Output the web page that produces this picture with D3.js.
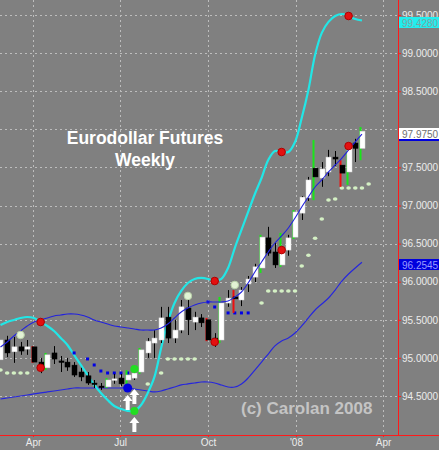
<!DOCTYPE html>
<html>
<head>
<meta charset="utf-8">
<script src="https://cdn.jsdelivr.net/npm/d3@7"></script>
<style>
  body { margin: 0; background: #808080; }
  svg { display: block; font-family: "Liberation Sans", Arial, sans-serif; }
</style>
</head>
<body>
<svg></svg>
<script>
const [svgWidth, svgHeight] = [439, 450];

// weekly bars, Mon 26 Feb 2007 .. Mon 10 Mar 2008
const firstWeek = new Date(2007, 1, 26);
const lastWeek = new Date(2008, 2, 10);

const opens = [94.975, 95.235, 95.080, 95.145, 95.115, 95.145, 94.945, 94.870, 95.065, 94.960,
  94.945, 94.905, 94.815, 94.765, 94.670, 94.630, 94.620, 94.710, 94.735, 94.710,
  94.735, 94.815, 95.065, 95.195, 95.235, 95.535, 95.260, 95.365, 95.655, 95.470,
  95.525, 95.500, 95.260, 95.235, 95.720, 95.800, 95.760, 95.970, 96.060, 96.180,
  96.575, 96.390, 96.220, 96.415, 96.585, 96.900, 97.100, 97.490, 97.360, 97.440,
  97.635, 97.530, 97.440, 97.820, 97.750];
const highs = [95.300, 95.290, 95.275, 95.210, 95.235, 95.155, 95.000, 95.065, 95.155, 95.025,
  95.000, 94.945, 94.870, 94.815, 94.710, 94.670, 94.735, 94.790, 94.790, 94.840,
  94.855, 95.130, 95.260, 95.365, 95.670, 95.670, 95.500, 95.760, 95.760, 95.605,
  95.575, 95.525, 95.325, 95.800, 95.890, 95.890, 95.930, 96.075, 96.235, 96.615,
  96.720, 96.510, 96.640, 96.615, 96.940, 97.125, 97.375, 97.860, 97.570, 97.730,
  97.715, 97.595, 97.820, 97.875, 98.030];
const lows = [94.945, 95.010, 94.935, 95.040, 95.040, 94.935, 94.800, 94.840, 94.920, 94.815,
  94.830, 94.750, 94.695, 94.645, 94.605, 94.580, 94.605, 94.660, 94.630, 94.630,
  94.710, 94.790, 95.000, 95.000, 95.195, 95.195, 95.195, 95.325, 95.300, 95.365,
  95.405, 95.220, 95.145, 95.195, 95.670, 95.590, 95.680, 95.865, 95.995, 96.115,
  96.340, 96.180, 96.195, 96.340, 96.560, 96.810, 97.060, 97.070, 97.245, 97.385,
  97.520, 97.245, 97.270, 97.570, 97.595];
const closes = [95.235, 95.065, 95.145, 95.090, 95.145, 94.945, 94.870, 95.040, 94.985, 94.945,
  94.880, 94.775, 94.750, 94.670, 94.660, 94.625, 94.710, 94.725, 94.660, 94.775,
  94.800, 95.105, 95.220, 95.260, 95.525, 95.260, 95.365, 95.670, 95.500, 95.535,
  95.460, 95.235, 95.210, 95.720, 95.785, 95.775, 95.890, 96.035, 96.195, 96.585,
  96.375, 96.220, 96.415, 96.575, 96.915, 97.110, 97.335, 97.375, 97.480, 97.635,
  97.610, 97.425, 97.780, 97.750, 97.975];
// g = green range bar, r = red range bar
const barFlags = ['g', '', '', '', '', 'r', '', 'g', '', '', '', '', '', '', '', '', 'g', '', '', 'g',
  '', 'g', '', '', '', '', '', '', '', '', '', 'r', '', 'g', '', 'r', '', '', '', 'g',
  '', '', 'g', '', 'g', '', '', 'g', '', '', '', 'r', 'g', '', 'g'];

const cyanLine = [95.432, 95.471, 95.498, 95.524, 95.537, 95.524, 95.471, 95.419, 95.353, 95.261,
  95.170, 95.038, 94.907, 94.776, 94.645, 94.540, 94.448, 94.369, 94.330, 94.304,
  94.304, 94.382, 94.540, 94.750, 95.130, 95.471, 95.721, 95.878, 95.983, 96.036,
  96.049, 96.036, 96.009, 96.036, 96.180, 96.442, 96.679, 96.915, 97.151, 97.361,
  97.597, 97.715, 97.702, 97.702, 97.834, 98.148, 98.516, 98.979, 99.266, 99.410,
  99.487, 99.513, 99.487, 99.448, 99.428];
const midLine = [95.143, 95.209, 95.288, 95.353, 95.419, 95.471, 95.498, 95.524, 95.550, 95.563,
  95.576, 95.576, 95.563, 95.537, 95.498, 95.471, 95.445, 95.419, 95.406, 95.393,
  95.380, 95.366, 95.366, 95.366, 95.393, 95.445, 95.524, 95.603, 95.655, 95.694,
  95.721, 95.734, 95.734, 95.734, 95.747, 95.799, 95.865, 95.983, 96.128, 96.259,
  96.390, 96.508, 96.600, 96.705, 96.836, 96.981, 97.112, 97.243, 97.335, 97.440,
  97.532, 97.623, 97.729, 97.834, 97.938];
const lowLine = [94.461, 94.474, 94.487, 94.500, 94.513, 94.527, 94.540, 94.553, 94.566, 94.579,
  94.592, 94.605, 94.605, 94.605, 94.605, 94.605, 94.605, 94.605, 94.605, 94.605,
  94.592, 94.579, 94.566, 94.553, 94.566, 94.592, 94.618, 94.645, 94.658, 94.671,
  94.684, 94.684, 94.671, 94.645, 94.618, 94.618, 94.658, 94.737, 94.841, 94.946,
  95.051, 95.157, 95.222, 95.261, 95.327, 95.419, 95.524, 95.629, 95.708, 95.786,
  95.891, 96.009, 96.101, 96.180, 96.2545];

// [week index, price]
const blueStops = [[11, 95.065], [13, 94.986], [14, 94.907], [15, 94.828], [16, 94.802], [17, 94.802],
  [18, 94.802], [19, 94.802], [31, 95.734], [32, 95.668], [33, 95.590], [34, 95.590], [35, 95.590],
  [36, 95.590], [37, 95.590]];
const paleStops = [[0, 94.841], [1, 94.802], [2, 94.802], [3, 94.802], [4, 94.802], [22, 94.658],
  [24, 94.802], [25, 94.986], [26, 94.986], [27, 94.986], [28, 94.986], [29, 94.986],
  [39, 95.721], [40, 95.878], [41, 95.878], [42, 95.878], [43, 95.878], [44, 95.878],
  [45, 96.206], [46, 96.347], [47, 96.571], [48, 96.823], [49, 97.072], [50, 97.085],
  [51, 97.230], [52, 97.230], [53, 97.230], [54, 97.230], [55, 97.282]];
const paleMarks = [[3, 95.301], [28, 95.813], [35, 95.957]];
const redSignals = [6, 32, 42, 52];
const greenSignals = [20];
const blueSignals = [19];
const arrows = [[19, 94.513], [20, 94.592], [20, 94.225]];

const priceTicks = [94.5, 95, 95.5, 96, 96.5, 97, 97.5, 98, 98.5, 99, 99.5];
const dateTicks = [new Date(2007, 3, 1), new Date(2007, 6, 1), new Date(2007, 9, 1),
  new Date(2008, 0, 1), new Date(2008, 3, 1)];
const lastLabels = [
  { v: 99.4280, fill: '#22eeee', text: '#7fa3a3', line: null },
  { v: 97.9750, fill: '#ffffff', text: '#707070', line: '#0000dd' },
  { v: 96.2545, fill: '#0000dd', text: '#9b9bff', line: null }
];

const weeks = d3.timeMonday.range(firstWeek, d3.timeDay.offset(lastWeek, 8));

const svg = d3.select('svg')
  .attr('width', svgWidth)
  .attr('height', svgHeight);

svg.append('rect')
  .attr('width', svgWidth)
  .attr('height', svgHeight)
  .attr('fill', '#808080');

const x = d3.scaleTime()
  .domain([dateTicks[0], dateTicks[4]])
  .range([33, 383]);
const y = d3.scaleLinear()
  .domain([94.5, 99.5])
  .range([396, 15]);
const xi = i => x(weeks[i]);

const axisX = 398, axisY = 435;

// grid
svg.append('g').selectAll('line')
  .data(priceTicks)
  .join('line')
  .attr('x1', 0).attr('x2', axisX)
  .attr('y1', d => Math.round(y(d)) + 0.5).attr('y2', d => Math.round(y(d)) + 0.5)
  .attr('stroke', '#bdbdbd')
  .attr('stroke-dasharray', '2,3');
svg.append('g').selectAll('line')
  .data(dateTicks)
  .join('line')
  .attr('x1', d => Math.round(x(d)) + 0.5).attr('x2', d => Math.round(x(d)) + 0.5)
  .attr('y1', 0).attr('y2', axisY)
  .attr('stroke', '#bdbdbd')
  .attr('stroke-dasharray', '2,3');

// title
const title = svg.append('g')
  .attr('fill', '#fff')
  .attr('font-weight', 'bold')
  .attr('font-size', 17.5)
  .attr('text-anchor', 'middle');
title.append('text').attr('x', 145).attr('y', 144).text('Eurodollar Futures');
title.append('text').attr('x', 145).attr('y', 166).text('Weekly');

svg.append('text')
  .attr('x', 241).attr('y', 414)
  .attr('fill', '#c4c4c4')
  .attr('font-weight', 'bold')
  .attr('font-size', 17)
  .text('(c) Carolan 2008');

// bands
const lineOf = vals => d3.line()
  .x((d, i) => xi(i))
  .y(d => y(d))
  .curve(d3.curveCatmullRom)(vals);

svg.append('path')
  .attr('d', lineOf(lowLine))
  .attr('fill', 'none')
  .attr('stroke', '#2626dd')
  .attr('stroke-width', 1.2);
svg.append('path')
  .attr('d', lineOf(cyanLine))
  .attr('fill', 'none')
  .attr('stroke', '#22e6e6')
  .attr('stroke-width', 2.2);

// stops
svg.append('g').selectAll('ellipse')
  .data(paleStops)
  .join('ellipse')
  .attr('cx', d => xi(d[0])).attr('cy', d => y(d[1]))
  .attr('rx', 2.3).attr('ry', 1.7)
  .attr('fill', '#d4f0c4');
svg.append('g').selectAll('rect')
  .data(blueStops)
  .join('rect')
  .attr('x', d => xi(d[0]) - 1.5).attr('y', d => y(d[1]) - 1.5)
  .attr('width', 3).attr('height', 3)
  .attr('fill', '#0000e6');

// candles
const bars = d3.range(opens.length).map(i => ({
  i, o: opens[i], h: highs[i], l: lows[i], c: closes[i], f: barFlags[i]
}));
const candle = svg.append('g').selectAll('g')
  .data(bars)
  .join('g')
  .attr('transform', d => `translate(${Math.round(xi(d.i))},0)`);
candle.filter(d => !d.f)
  .append('line')
  .attr('x1', 0.5).attr('x2', 0.5)
  .attr('y1', d => y(d.h)).attr('y2', d => y(d.l))
  .attr('stroke', '#000');
candle.filter(d => d.f)
  .append('line')
  .attr('x1', -1.5).attr('x2', -1.5)
  .attr('y1', d => y(d.h)).attr('y2', d => y(d.l))
  .attr('stroke', d => d.f === 'g' ? '#19e619' : '#ee1010')
  .attr('stroke-width', 2);
candle.append('rect')
  .attr('x', -2)
  .attr('y', d => y(Math.max(d.o, d.c)))
  .attr('width', 5)
  .attr('height', d => Math.max(1.5, y(Math.min(d.o, d.c)) - y(Math.max(d.o, d.c))))
  .attr('fill', d => d.c >= d.o ? '#fff' : '#000')
  .attr('stroke', d => d.c >= d.o ? '#d8d8d8' : '#000')
  .attr('stroke-width', 0.5);

svg.append('path')
  .attr('d', lineOf(midLine))
  .attr('fill', 'none')
  .attr('stroke', '#2222dd')
  .attr('stroke-width', 1.1);

// signal markers
svg.append('g').selectAll('circle')
  .data(paleMarks)
  .join('circle')
  .attr('cx', d => xi(d[0])).attr('cy', d => y(d[1]))
  .attr('r', 3.8)
  .attr('fill', '#e2f2d4')
  .attr('stroke', '#b8d0a8');
const redPts = redSignals.flatMap(i => [[i, cyanLine[i]], [i, closes[i]]]);
svg.append('g').selectAll('circle')
  .data(redPts)
  .join('circle')
  .attr('cx', d => xi(d[0])).attr('cy', d => y(d[1]))
  .attr('r', 3.8)
  .attr('fill', '#e31010')
  .attr('stroke', '#b00000');
const greenPts = greenSignals.flatMap(i => [[i, cyanLine[i]], [i, highs[i]]]);
svg.append('g').selectAll('circle')
  .data(greenPts)
  .join('circle')
  .attr('cx', d => xi(d[0])).attr('cy', d => y(d[1]))
  .attr('r', 4)
  .attr('fill', '#22dd22');
svg.append('g').selectAll('circle')
  .data(blueSignals)
  .join('circle')
  .attr('cx', i => xi(i)).attr('cy', i => y(lowLine[i]))
  .attr('r', 4.5)
  .attr('fill', '#0000dd');
svg.append('g').selectAll('path')
  .data(arrows)
  .join('path')
  .attr('transform', d => `translate(${xi(d[0])},${y(d[1])})`)
  .attr('d', 'M0,0 L5,6 L2,6 L2,15 L-2,15 L-2,6 L-5,6 Z')
  .attr('fill', '#fff');

// axes
const yAxis = svg.append('g')
  .attr('transform', `translate(${axisX},0)`)
  .call(d3.axisRight(y).tickValues(priceTicks)
    .tickFormat(d => d === 98 ? '' : d3.format('.4f')(d))   // hidden behind last-close box
    .tickSize(3).tickPadding(1));
yAxis.select('.domain').remove();
yAxis.selectAll('line').attr('stroke', '#ff2020');
yAxis.selectAll('text').attr('fill', '#ececec').attr('font-size', 10).attr('font-family', null);

const xAxis = svg.append('g')
  .attr('transform', `translate(0,${axisY})`)
  .call(d3.axisBottom(x).tickValues(dateTicks)
    .tickFormat(d => d.getMonth() === 0 ? "'08" : d3.timeFormat('%b')(d))
    .tickSize(2).tickPadding(2));
xAxis.select('.domain').remove();
xAxis.selectAll('line').attr('stroke', '#ff2020');
xAxis.selectAll('text').attr('fill', '#ececec').attr('font-size', 10).attr('font-family', null);

svg.append('line')
  .attr('x1', axisX + 0.5).attr('x2', axisX + 0.5)
  .attr('y1', 0).attr('y2', axisY)
  .attr('stroke', '#ff1a1a');
svg.append('line')
  .attr('x1', 0).attr('x2', svgWidth)
  .attr('y1', axisY + 0.5).attr('y2', axisY + 0.5)
  .attr('stroke', '#ff1a1a');

// last value labels
const lbl = svg.append('g').selectAll('g')
  .data(lastLabels)
  .join('g')
  .attr('transform', d => `translate(${axisX + 1},${Math.round(y(d.v)) - 3})`);
lbl.append('rect')
  .attr('width', svgWidth - axisX - 1).attr('height', 11)
  .attr('fill', d => d.fill);
lbl.filter(d => d.line).append('rect')
  .attr('y', 11).attr('width', svgWidth - axisX - 1).attr('height', 2)
  .attr('fill', d => d.line);
lbl.append('text')
  .attr('x', 3).attr('y', 9.5)
  .attr('font-size', 10)
  .attr('fill', d => d.text)
  .text(d => d3.format('.4f')(d.v));
</script>
</body>
</html>
